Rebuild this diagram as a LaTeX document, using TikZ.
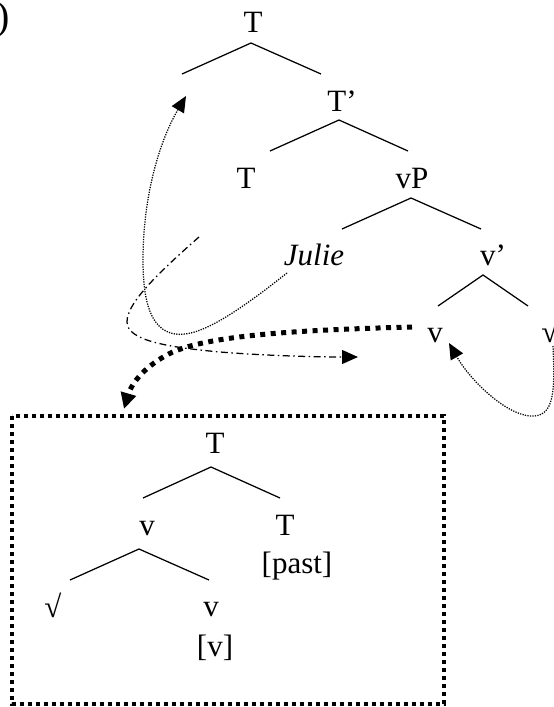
\documentclass[tikz,border=0pt]{standalone}
\usepackage{fontspec}
\setmainfont{Liberation Serif}
\usetikzlibrary{arrows.meta}
\begin{document}
\begin{tikzpicture}[x=1pt,y=-1pt,
  lab/.style={inner sep=0pt, anchor=base, font=\fontsize{31}{37}\selectfont},
  branch/.style={line width=1.25pt},
  thindot/.style={line width=1.25pt, dash pattern=on 1.25pt off 1.25pt},
  dashdot/.style={line width=1.25pt, dash pattern=on 7pt off 3.5pt on 1.5pt off 3.5pt},
  thickdot/.style={line width=5pt, dash pattern=on 5pt off 5.5pt},
  boxdot/.style={line width=4pt, dash pattern=on 4pt off 4pt},
  tip/.style={-{Triangle[length=16pt,width=14pt]}},
  bigtip/.style={-{Triangle[length=16pt,width=15pt]}}]
\useasboundingbox (0,0) rectangle (554,707);
\clip (0,0) rectangle (554,707);
% label fragment
\node[inner sep=0pt, anchor=base west, font=\fontsize{40}{44}\selectfont] (num) at (-3.6,29.8) {)};
% upper tree
\node[lab] (tT) at (253,32.5) {T};
\node[lab] (tTbar) at (342,111) {T’};
\node[lab] (tTh) at (246,188) {T};
\node[lab] (tvP) at (412,188) {vP};
\node[lab, font=\fontsize{31}{37}\selectfont\itshape] (julie) at (314,265) {Julie};
\node[lab] (tvbar) at (493,265) {v’};
\node[lab] (tv) at (435,342) {v};
\node[lab] (troot) at (550,342) {√};
% branch points
\coordinate (a1) at (251,43);  \coordinate (l1) at (182,74);  \coordinate (r1) at (321,74);
\coordinate (a2) at (339,120); \coordinate (l2) at (270,151); \coordinate (r2) at (408,151);
\coordinate (a3) at (411,198); \coordinate (l3) at (342,229); \coordinate (r3) at (481,229);
\coordinate (a4) at (483,275); \coordinate (l4) at (438,306); \coordinate (r4) at (528,306);
\draw[branch] (l1) -- (a1) -- (r1);
\draw[branch] (l2) -- (a2) -- (r2);
\draw[branch] (l3) -- (a3) -- (r3);
\draw[branch] (l4) -- (a4) -- (r4);
% lower tree (in box)
\node[lab] (bT) at (215,453) {T};
\node[lab] (bv) at (147,535) {v};
\node[lab] (bTp) at (285,535) {T};
\node[lab] (past) at (297,573) {[past]};
\node[lab] (broot) at (53,617) {√};
\node[lab] (bv2) at (211,616) {v};
\node[lab] (bvf) at (215,656) {[v]};
\coordinate (a5) at (211,467); \coordinate (l5) at (143,498); \coordinate (r5) at (280,498);
\coordinate (a6) at (139,549); \coordinate (l6) at (70,580);  \coordinate (r6) at (209,580);
\draw[branch] (l5) -- (a5) -- (r5);
\draw[branch] (l6) -- (a6) -- (r6);
% box
\coordinate (bx1) at (12,416); \coordinate (bx2) at (444,704);
\draw[boxdot] (bx1) rectangle (bx2);
% movement arrows
\coordinate (jstart) at (287,273);
\coordinate (spec) at (186,96);
\draw[thindot, tip] (jstart) .. controls (240,310) and (200,338) .. (175,334)
  .. controls (150,330) and (143,300) .. (143,260)
  .. controls (143,195) and (160,140) .. (spec);
\coordinate (ddstart) at (199,237);
\coordinate (ddend) at (358,357);
\draw[dashdot, tip] (ddstart) .. controls (150,280) and (127,305) .. (127,322)
  .. controls (127,340) and (165,347) .. (220,352)
  .. controls (270,356) and (320,357) .. (ddend);
\coordinate (vstart) at (412,327);
\coordinate (boxtop) at (124,409);
\draw[thickdot, bigtip] (vstart) .. controls (300,330) and (200,335) .. (165,356)
  .. controls (142,369) and (131,385) .. (boxtop);
\coordinate (rstart) at (553,346);
\coordinate (vtip) at (449,343);
\draw[thindot, tip] (rstart) .. controls (555,390) and (555,418) .. (530,416)
  .. controls (505,414) and (470,380) .. (vtip);
\end{tikzpicture}
\end{document}
